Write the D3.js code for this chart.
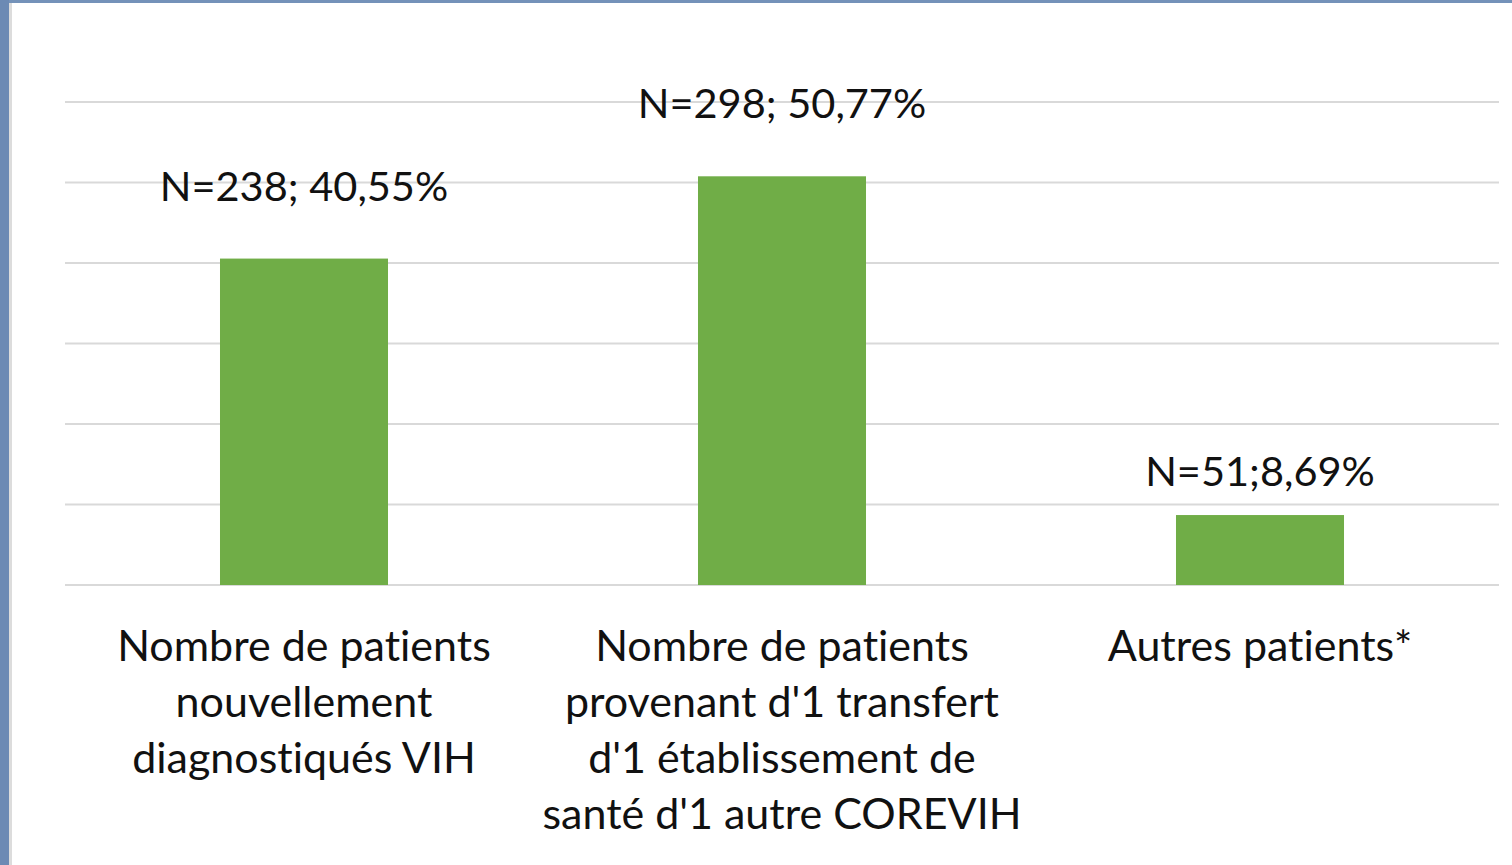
<!DOCTYPE html>
<html>
<head>
<meta charset="utf-8">
<script src="https://cdn.jsdelivr.net/npm/d3@7"></script>
<style>
  html, body { margin: 0; padding: 0; background: #ffffff; }
  svg { display: block; }
  text { font-variant-ligatures: none; font-feature-settings: "liga" 0; }
</style>
</head>
<body>
<svg id="chart" width="1512" height="865"></svg>
<script>
// ---- data ----
const categories = [
  ["Nombre de patients", "nouvellement", "diagnostiqués VIH"],
  ["Nombre de patients", "provenant d'1 transfert", "d'1 établissement de", "santé d'1 autre COREVIH"],
  ["Autres patients*"]
];
const counts = [238, 298, 51];
const percents = [40.55, 50.77, 8.69];
const valueLabels = ["N=238; 40,55%", "N=298; 50,77%", "N=51;8,69%"];
const yTicks = [0, 10, 20, 30, 40, 50, 60];

// ---- layout ----
const W = 1512, H = 865;
const plot = { left: 65, right: 1499, top: 102, bottom: 585 };
const labelGap = [58, 58, 29];
const fontFamily = "Lato, 'Open Sans', sans-serif";
const valueFontSize = 41.5;
const catFontSize = 43;

const svg = d3.select("#chart");

// frame
svg.append("rect").attr("x", 0).attr("y", 0).attr("width", W).attr("height", H).attr("fill", "#ffffff");
svg.append("rect").attr("x", 0).attr("y", 0).attr("width", W).attr("height", 3).attr("fill", "#7492b9");
svg.append("rect").attr("x", 9).attr("y", 3).attr("width", 3).attr("height", H - 3).attr("fill", "#dcdcdc");
svg.append("rect").attr("x", 0).attr("y", 0).attr("width", 9).attr("height", H).attr("fill", "#6c8ab4");

const x = d3.scaleBand()
  .domain(d3.range(categories.length))
  .range([plot.left, plot.right])
  .paddingInner(0.6485)
  .paddingOuter(0.6485 / 2);

const y = d3.scaleLinear().domain([0, 60]).range([plot.bottom, plot.top]);

// gridlines
svg.append("g")
  .selectAll("line")
  .data(yTicks)
  .join("line")
  .attr("x1", plot.left).attr("x2", plot.right)
  .attr("y1", d => y(d)).attr("y2", d => y(d))
  .attr("stroke", "#d9d9d9")
  .attr("stroke-width", 2);

// bars
svg.append("g")
  .selectAll("rect")
  .data(percents)
  .join("rect")
  .attr("x", (d, i) => x(i))
  .attr("y", d => y(d))
  .attr("width", x.bandwidth())
  .attr("height", d => y(0) - y(d))
  .attr("fill", "#70ad47");

// value labels
svg.append("g")
  .selectAll("text")
  .data(valueLabels)
  .join("text")
  .attr("x", (d, i) => x(i) + x.bandwidth() / 2)
  .attr("y", (d, i) => y(percents[i]) - labelGap[i])
  .attr("text-anchor", "middle")
  .attr("font-family", fontFamily)
  .attr("font-size", valueFontSize)
  .attr("fill", "#111111")
  .text(d => d);

// category labels
const cat = svg.append("g")
  .selectAll("text")
  .data(categories)
  .join("text")
  .attr("text-anchor", "middle")
  .attr("font-family", fontFamily)
  .attr("font-size", catFontSize)
  .attr("fill", "#111111");

cat.each(function(lines, i) {
  d3.select(this).selectAll("tspan")
    .data(lines)
    .join("tspan")
    .attr("x", x(i) + x.bandwidth() / 2)
    .attr("y", (l, j) => 661 + j * 56)
    .text(l => l);
});
</script>
</body>
</html>
